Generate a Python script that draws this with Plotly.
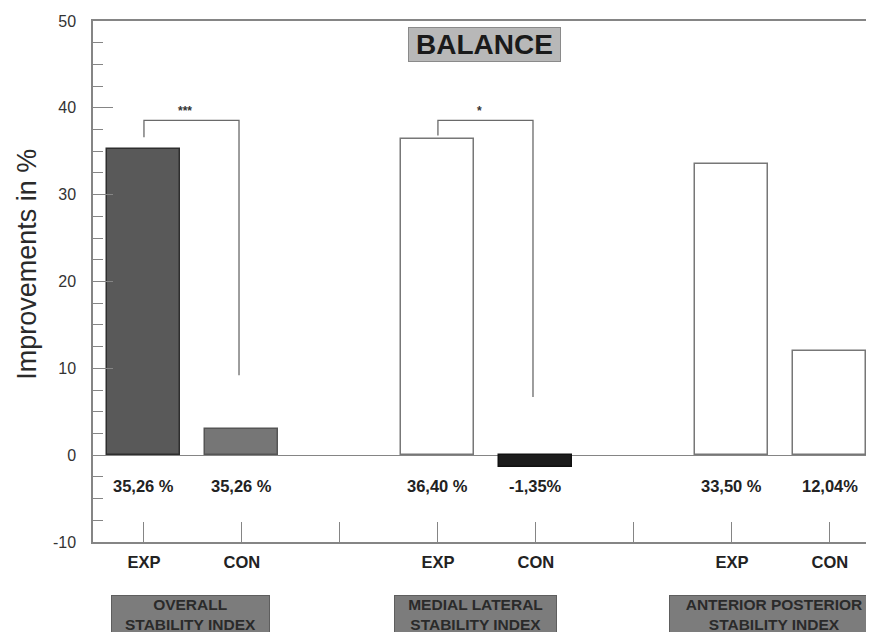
import plotly.graph_objects as go

# ---- data ----
groups = ["OVERALL<br>STABILITY INDEX", "MEDIAL LATERAL<br>STABILITY INDEX", "ANTERIOR POSTERIOR<br>STABILITY INDEX"]
conditions = ["EXP", "CON"]
values_exp = [35.26, 36.40, 33.50]
values_con = [3.0, -1.35, 12.04]
labels_exp = ["35,26 %", "36,40 %", "33,50 %"]
labels_con = ["35,26 %", "-1,35%", "12,04%"]
significance = ["***", "*", ""]
bracket_con_bottom = [9.2, 6.7, None]
y_tick_vals = [-10, 0, 10, 20, 30, 40, 50]
y_tick_text = ["-10", "0", "10", "20", "30", "40", "50"]

# ---- styles ----
fill_exp = ["#595959", "#ffffff", "#ffffff"]
fill_con = ["#767676", "#1c1c1c", "#ffffff"]
line_exp = ["#2e2e2e", "#777777", "#777777"]
line_con = ["#555555", "#111111", "#777777"]
FONT = "Liberation Sans, Arial, sans-serif"
AX = "#858585"

x_pos, y_vals, fills, lines = [], [], [], []
for g in range(len(groups)):
    x_pos += [g * 3, g * 3 + 1]
    y_vals += [values_exp[g], values_con[g]]
    fills += [fill_exp[g], fill_con[g]]
    lines += [line_exp[g], line_con[g]]

fig = go.Figure()
fig.add_trace(go.Bar(
    x=x_pos, y=y_vals, width=0.745,
    marker=dict(color=fills, line=dict(color=lines, width=1.5)),
    showlegend=False, hoverinfo="skip",
))

# value labels
annotations = []
for g in range(len(groups)):
    for c, lab in enumerate([labels_exp[g], labels_con[g]]):
        annotations.append(dict(
            x=g * 3 + c, y=-3.55, xref="x", yref="y", text="<b>" + lab + "</b>", showarrow=False,
            font=dict(family=FONT, size=16.5, color="#222222"), xanchor="center", yanchor="middle",
        ))

# group label boxes
box_centers = [0.474, 3.383, 6.43]
box_widths = [157, 161, 208]
for g, name in enumerate(groups):
    annotations.append(dict(
        x=box_centers[g], y=-0.1017, xref="x", yref="paper", text="<b>" + name + "</b>",
        showarrow=False, xanchor="center", yanchor="top", valign="top",
        width=box_widths[g], height=44, bgcolor="#7c7c7c", bordercolor="#5e5e5e", borderwidth=1,
        borderpad=0, font=dict(family=FONT, size=15.5, color="#2a2a2a"),
    ))

# significance brackets
shapes = []
for g in range(len(groups)):
    if not significance[g]:
        continue
    xl = g * 3
    xr = g * 3 + 0.97
    top = 38.55
    ybot_l = 36.6 if g == 0 else 36.8
    shapes.append(dict(
        type="path", xref="x", yref="y",
        path=f"M {xl} {ybot_l} L {xl} {top} L {xr} {top} L {xr} {bracket_con_bottom[g]}",
        line=dict(color="#6a6a6a", width=1.3),
    ))
    annotations.append(dict(
        x=xl + 0.42, y=top + 0.1, xref="x", yref="y", text="<b>" + significance[g] + "</b>",
        showarrow=False, yanchor="bottom", font=dict(family=FONT, size=12, color="#333333"),
    ))

# title box
annotations.append(dict(
    x=3.474, y=47.35, xref="x", yref="y", text="<b>BALANCE</b>", showarrow=False,
    width=151, height=33, bgcolor="#b8b8b8", bordercolor="#8a8a8a", borderwidth=1, borderpad=0,
    font=dict(family=FONT, size=28, color="#1a1a1a"),
))

# y title
annotations.append(dict(
    x=-0.0845, y=0.532, xref="paper", yref="paper", text="Improvements in %", showarrow=False,
    textangle=-90, xanchor="center", yanchor="middle",
    font=dict(family=FONT, size=27, color="#2a2a2a"),
))

tick_vals = list(range(8))
tick_text = []
for g in range(3):
    tick_text += ["<b>EXP</b>", "<b>CON</b>"] + ([""] if g < 2 else [])

# page body has an 8px margin: size the figure so the plot lands at the reference pixels
fig.update_layout(
    width=866, height=624,
    margin=dict(l=85, r=0, t=13, b=90),
    paper_bgcolor="white", plot_bgcolor="white",
    bargap=0,
    annotations=annotations, shapes=shapes,
    xaxis=dict(
        range=[-0.52, 7.45], tickvals=tick_vals, ticktext=tick_text,
        ticks="inside", ticklen=20, tickcolor=AX, tickwidth=1.2,
        showline=True, linecolor=AX, linewidth=1.5, mirror=True,
        showgrid=False, zeroline=False, ticklabelstandoff=4,
        tickfont=dict(family=FONT, size=16.5, color="#222222"),
    ),
    yaxis=dict(
        range=[-10, 50], tickvals=y_tick_vals, ticktext=y_tick_text,
        ticks="inside", ticklen=20, tickcolor=AX, tickwidth=1.2,
        minor=dict(dtick=2.5, tick0=0, ticks="inside", ticklen=10, tickcolor=AX, tickwidth=1.2),
        showline=True, linecolor=AX, linewidth=1.5, mirror=False,
        showgrid=False, zeroline=True, zerolinecolor=AX, zerolinewidth=1.2,
        ticklabelstandoff=12,
        tickfont=dict(family=FONT, size=16, color="#333333"),
    ),
)

fig.write_html("out.html")
